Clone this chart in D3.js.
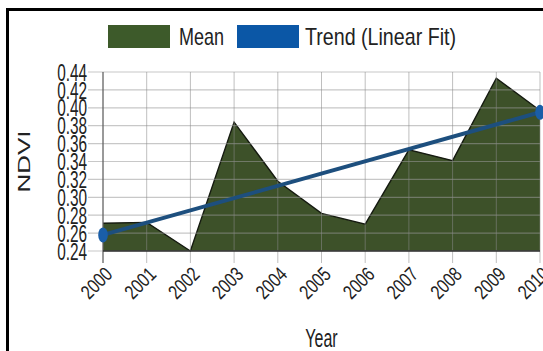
<!DOCTYPE html>
<html>
<head>
<meta charset="utf-8">
<script src="https://cdn.jsdelivr.net/npm/d3@7"></script>
<style>
  html, body { margin: 0; padding: 0; background: #fff; }
  svg { display: block; }
  text { font-family: "Liberation Sans", Arial, sans-serif; fill: #222; }
</style>
</head>
<body>
<div id="chart"></div>
<script>
// Annual mean NDVI, 2000–2010, with its linear trend
const years = [2000, 2001, 2002, 2003, 2004, 2005, 2006, 2007, 2008, 2009, 2010];
const meanNDVI = [0.271, 0.272, 0.240, 0.384, 0.318, 0.282, 0.270, 0.353, 0.341, 0.433, 0.397];
const trendYears = [2000, 2010];
const trendNDVI = [0.258, 0.395];
const yTicks = [0.24, 0.26, 0.28, 0.30, 0.32, 0.34, 0.36, 0.38, 0.40, 0.42, 0.44];
const legendLabels = ["Mean", "Trend (Linear Fit)"];

const W = 543, H = 351;
const SX = 0.64; // horizontal condensing of lettering and markers

const svg = d3.select("#chart").append("svg")
  .attr("width", W).attr("height", H);

const x = d3.scaleLinear().domain([2000, 2010]).range([103, 540]);
const y = d3.scaleLinear().domain([0.24, 0.44]).range([251, 72]);

// Mean area
const meanPts = years.map((yr, i) => ({ yr, v: meanNDVI[i] }));
svg.append("path")
  .datum(meanPts)
  .attr("d", d3.area().x(d => x(d.yr)).y0(y(0.24)).y1(d => y(d.v)))
  .attr("fill", "#3d5129");
svg.append("path")
  .datum(meanPts)
  .attr("d", d3.line().x(d => x(d.yr)).y(d => y(d.v)))
  .attr("fill", "none").attr("stroke", "#151a10").attr("stroke-width", 1.4);

// Grid (drawn over the fill)
const grid = svg.append("g");
grid.selectAll("line.h").data(yTicks).join("line")
  .attr("x1", 88).attr("x2", 540)
  .attr("y1", d => y(d)).attr("y2", d => y(d))
  .attr("stroke", "#9a9a9a").attr("stroke-opacity", 0.55).attr("stroke-width", 1.2);
grid.selectAll("line.v").data(years).join("line")
  .attr("x1", d => x(d)).attr("x2", d => x(d))
  .attr("y1", y(0.44)).attr("y2", 263)
  .attr("stroke", "#8a8a8a").attr("stroke-opacity", 0.55).attr("stroke-width", 1);

// Axis lines
svg.append("line").attr("x1", x(2000)).attr("x2", x(2000))
  .attr("y1", y(0.44)).attr("y2", 263).attr("stroke", "#555").attr("stroke-width", 1);
svg.append("line").attr("x1", x(2000)).attr("x2", x(2010))
  .attr("y1", y(0.24)).attr("y2", y(0.24)).attr("stroke", "#333").attr("stroke-width", 1.5);

// Trend line with end markers
const trendPts = trendYears.map((yr, i) => ({ yr, v: trendNDVI[i] }));
svg.append("path")
  .datum(trendPts)
  .attr("d", d3.line().x(d => x(d.yr)).y(d => y(d.v)))
  .attr("fill", "none").attr("stroke", "#1d4f7e").attr("stroke-width", 4);
svg.selectAll("ellipse.tm").data(trendPts).join("ellipse")
  .attr("cx", d => x(d.yr)).attr("cy", d => y(d.v))
  .attr("rx", 7.5 * SX).attr("ry", 7.5)
  .attr("fill", "#1a5ea8");

// Y tick labels
svg.selectAll("text.yt").data(yTicks).join("text")
  .attr("text-anchor", "end")
  .attr("dy", "0.36em")
  .attr("font-size", 24)
  .attr("transform", d => `translate(87,${y(d)}) scale(${SX},1)`)
  .text(d => d3.format(".2f")(d));

// X tick labels, rotated 45°
svg.selectAll("text.xt").data(years).join("text")
  .attr("text-anchor", "end")
  .attr("font-size", 20)
  .attr("dy", "0.36em")
  .attr("transform", d => `translate(${x(d) + 5.5},270.5) rotate(-45) scale(0.78,1)`)
  .text(d => d);

// Axis titles
svg.append("text")
  .attr("text-anchor", "middle")
  .attr("font-size", 25)
  .attr("transform", `translate(${(x(2000) + x(2010)) / 2},347) scale(${SX},1)`)
  .text("Year");
svg.append("text")
  .attr("text-anchor", "middle")
  .attr("font-size", 26)
  .attr("transform", `translate(30,${(y(0.24) + y(0.44)) / 2}) scale(${SX},1) rotate(-90)`)
  .text("NDVI");

// Legend
const legend = svg.append("g");
const swatchColors = ["#3d5a2a", "#0b57a6"];
const swatchX = [108, 237];
const labelX = [179, 305];
const labelW = [45, 151];
legendLabels.forEach((lab, i) => {
  legend.append("rect")
    .attr("x", swatchX[i]).attr("y", 25).attr("width", 62).attr("height", 23)
    .attr("fill", swatchColors[i]);
  legend.append("text")
    .attr("x", labelX[i]).attr("y", 45)
    .attr("font-size", 24)
    .attr("textLength", labelW[i]).attr("lengthAdjust", "spacingAndGlyphs")
    .text(lab);
});

// Outer frame
svg.append("path")
  .attr("d", `M7.5,${H} V9.5 H${W}`)
  .attr("fill", "none").attr("stroke", "#000").attr("stroke-width", 3);
</script>
</body>
</html>
